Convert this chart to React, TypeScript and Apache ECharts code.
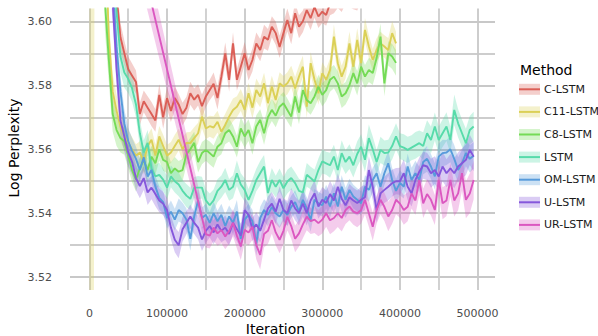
import React, { useEffect, useRef } from "react";
import * as echarts from "echarts";

// ---------- data ----------
const METHODS = ["C-LSTM", "C11-LSTM", "C8-LSTM", "LSTM", "OM-LSTM", "U-LSTM", "UR-LSTM"];
const COLORS = ["#db5f57", "#dbd057", "#75db57", "#57dbaa", "#579bdb", "#8557db", "#db57c0"];
const X_TICKS = [0, 100000, 200000, 300000, 400000, 500000];
const Y_TICKS = [3.52, 3.54, 3.56, 3.58, 3.6];
const X_TITLE = "Iteration";
const Y_TITLE = "Log Perplexity";
const LEGEND_TITLE = "Method";

// evaluation iterations (every 5000 steps)
const ITERATIONS = Array.from({ length: 100 }, (_, i) => i * 5000);
// UR-LSTM was only evaluated at 0 and then from 150000 on
const UR_ITERATIONS = [0, ...ITERATIONS.slice(30)];

const C_LSTM_MEAN = [
  4.35, 3.98, 3.82, 3.74, 3.69, 3.655, 3.63, 3.608, 3.595, 3.59,
  3.585, 3.583, 3.581, 3.571, 3.575, 3.573, 3.571, 3.569, 3.577, 3.57,
  3.576, 3.572, 3.576, 3.574, 3.571, 3.573, 3.5775, 3.5755, 3.577, 3.5735,
  3.5765, 3.5785, 3.5805, 3.576, 3.5827, 3.59, 3.5817, 3.5931, 3.5817, 3.5858,
  3.59, 3.5848, 3.5879, 3.5931, 3.591, 3.5952, 3.5942, 3.5983, 3.5963, 3.592,
  3.5963, 3.6004, 3.5963, 3.6025, 3.5983, 3.6, 3.6035, 3.601, 3.6045, 3.6015,
  3.603, 3.602, 3.6055, 3.606, 3.6075, 3.6065, 3.609, 3.608, 3.6075, 3.607,
  3.6095, 3.608, 3.611, 3.61, 3.6125, 3.6115, 3.613, 3.612, 3.6145, 3.6135,
];
const C_LSTM_HW = [
  0.05, 0.03, 0.02, 0.015, 0.01, 0.008, 0.006, 0.005, 0.0045, 0.004,
  0.004, 0.0038, 0.0036, 0.0035, 0.0034, 0.0036, 0.0038, 0.0035, 0.0033, 0.0036,
  0.0034, 0.0035, 0.0037, 0.0033, 0.0035, 0.0034, 0.0036, 0.0035, 0.0033, 0.0036,
  0.0034, 0.0032, 0.0035, 0.0036, 0.0033, 0.0034, 0.0037, 0.0035, 0.0034, 0.0036,
  0.0035, 0.0033, 0.0036, 0.0034, 0.0035, 0.0037, 0.0034, 0.0033, 0.0036, 0.0035,
  0.0034, 0.0036, 0.0035, 0.0033, 0.0036, 0.0034, 0.0035, 0.0037, 0.0034, 0.0036,
  0.0035, 0.0034, 0.0036, 0.0035, 0.0033, 0.0036, 0.0034, 0.0035, 0.0037, 0.0036,
  0.0034, 0.0036, 0.0035, 0.0034, 0.0036, 0.0035, 0.0034, 0.0036, 0.0035, 0.0034,
];

const C11_LSTM_MEAN = [
  5.5, 4.6, 4.2, 3.75, 3.63, 3.595, 3.578, 3.572, 3.567, 3.564,
  3.562, 3.56, 3.558, 3.559, 3.556, 3.561, 3.563, 3.558, 3.564, 3.561,
  3.558, 3.559, 3.561, 3.563, 3.56, 3.562, 3.5619, 3.5635, 3.565, 3.5702,
  3.5665, 3.5672, 3.5668, 3.5686, 3.5655, 3.5676, 3.5702, 3.5723, 3.5733, 3.5754,
  3.5723, 3.5775, 3.573, 3.5785, 3.5765, 3.5806, 3.5744, 3.5796, 3.5754, 3.5806,
  3.5796, 3.5806, 3.5827, 3.579, 3.5827, 3.5858, 3.5733, 3.5869, 3.5817, 3.5775,
  3.5838, 3.5817, 3.5848, 3.5952, 3.5869, 3.5827, 3.5858, 3.5931, 3.5858, 3.5942,
  3.5869, 3.5973, 3.5921, 3.5879, 3.591, 3.5931, 3.5921, 3.591, 3.5963, 3.5931,
];
const C11_LSTM_HW = [
  2.0, 1.2, 0.1, 0.03, 0.012, 0.007, 0.0055, 0.005, 0.0045, 0.0042,
  0.004, 0.0038, 0.0036, 0.0035, 0.0037, 0.0034, 0.0036, 0.0035, 0.0033, 0.0035,
  0.0034, 0.0033, 0.0035, 0.0034, 0.0036, 0.0033, 0.0035, 0.0034, 0.0033, 0.0036,
  0.0034, 0.0033, 0.0035, 0.0034, 0.0033, 0.0035, 0.0034, 0.0036, 0.0033, 0.0034,
  0.0035, 0.0033, 0.0034, 0.0036, 0.0034, 0.0033, 0.0035, 0.0034, 0.0036, 0.0035,
  0.0033, 0.0035, 0.0034, 0.0036, 0.0035, 0.0034, 0.0036, 0.0035, 0.0033, 0.0036,
  0.0034, 0.0035, 0.0036, 0.0038, 0.0035, 0.0034, 0.0036, 0.0037, 0.0035, 0.0036,
  0.0035, 0.0037, 0.0036, 0.0035, 0.0037, 0.0036, 0.0035, 0.0038, 0.0037, 0.0036,
];

const C8_LSTM_MEAN = [
  4.4, 4.0, 3.78, 3.66, 3.606, 3.588, 3.571, 3.566, 3.5635, 3.5625,
  3.558, 3.5535, 3.5505, 3.554, 3.5567, 3.5535, 3.5577, 3.5556, 3.56, 3.5567,
  3.556, 3.5525, 3.554, 3.553, 3.5535, 3.5585, 3.56, 3.562, 3.556, 3.5588,
  3.5598, 3.5588, 3.5577, 3.5608, 3.5619, 3.565, 3.566, 3.564, 3.5608, 3.5665,
  3.564, 3.566, 3.5619, 3.5671, 3.5692, 3.565, 3.57, 3.5723, 3.5705, 3.5733,
  3.5744, 3.5723, 3.5702, 3.5765, 3.5715, 3.5785, 3.5754, 3.5744, 3.5765, 3.5796,
  3.577, 3.5785, 3.5817, 3.5827, 3.5806, 3.5765, 3.5775, 3.58, 3.5838, 3.5806,
  3.5858, 3.5827, 3.5848, 3.5838, 3.5885, 3.5952, 3.5806, 3.59, 3.589, 3.587,
];
const C8_LSTM_HW = [
  0.06, 0.04, 0.025, 0.015, 0.009, 0.007, 0.0055, 0.005, 0.0045, 0.0042,
  0.004, 0.0038, 0.0037, 0.0036, 0.0035, 0.0037, 0.0034, 0.0036, 0.0035, 0.0034,
  0.0035, 0.0034, 0.0036, 0.0033, 0.0035, 0.0034, 0.0036, 0.0035, 0.0033, 0.0035,
  0.0034, 0.0036, 0.0035, 0.0033, 0.0035, 0.0034, 0.0036, 0.0035, 0.0034, 0.0036,
  0.0035, 0.0034, 0.0036, 0.0035, 0.0033, 0.0036, 0.0034, 0.0035, 0.0036, 0.0034,
  0.0035, 0.0036, 0.0034, 0.0035, 0.0037, 0.0035, 0.0034, 0.0036, 0.0035, 0.0037,
  0.0036, 0.0035, 0.0037, 0.0036, 0.0038, 0.0036, 0.0035, 0.0037, 0.0036, 0.0038,
  0.0037, 0.0036, 0.0038, 0.0037, 0.0039, 0.0041, 0.004, 0.0038, 0.0039, 0.004,
];

const LSTM_MEAN = [
  4.3, 3.95, 3.8, 3.72, 3.67, 3.64, 3.618, 3.603, 3.589, 3.584,
  3.582, 3.579, 3.574, 3.565, 3.559, 3.562, 3.554, 3.5515, 3.552, 3.5505,
  3.548, 3.5515, 3.55, 3.549, 3.547, 3.5455, 3.5445, 3.548, 3.548, 3.548,
  3.544, 3.5425, 3.544, 3.547, 3.5483, 3.5504, 3.5473, 3.5483, 3.5525, 3.549,
  3.5473, 3.5442, 3.547, 3.5504, 3.5525, 3.5546, 3.5463, 3.5504, 3.5483, 3.5504,
  3.5478, 3.5499, 3.551, 3.5494, 3.547, 3.5465, 3.552, 3.551, 3.5499, 3.5535,
  3.5562, 3.5556, 3.555, 3.5577, 3.5535, 3.5588, 3.556, 3.5577, 3.555, 3.5585,
  3.5608, 3.5567, 3.5635, 3.56, 3.556, 3.5598, 3.5588, 3.559, 3.561, 3.564,
  3.561, 3.5605, 3.5598, 3.5605, 3.5612, 3.5619, 3.561, 3.565, 3.5629, 3.5671,
  3.5629, 3.565, 3.5671, 3.5629, 3.5723, 3.5681, 3.565, 3.5619, 3.566, 3.5671,
];
const LSTM_HW = [
  0.06, 0.04, 0.025, 0.015, 0.01, 0.008, 0.0065, 0.0055, 0.005, 0.0048,
  0.0045, 0.0042, 0.004, 0.0042, 0.0038, 0.004, 0.0037, 0.0036, 0.0038, 0.0035,
  0.0036, 0.0034, 0.0035, 0.0037, 0.0034, 0.0036, 0.0035, 0.0033, 0.0036, 0.0034,
  0.0035, 0.0037, 0.0034, 0.0036, 0.0035, 0.0038, 0.0034, 0.0036, 0.004, 0.0035,
  0.0036, 0.0034, 0.0037, 0.0035, 0.0038, 0.0036, 0.0035, 0.0037, 0.0034, 0.0036,
  0.0035, 0.0037, 0.0036, 0.0034, 0.0038, 0.0036, 0.0037, 0.0035, 0.0038, 0.0036,
  0.0038, 0.0036, 0.0039, 0.0037, 0.0038, 0.004, 0.0037, 0.0039, 0.0038, 0.004,
  0.0039, 0.0038, 0.0042, 0.004, 0.0038, 0.0041, 0.0039, 0.004, 0.0042, 0.0041,
  0.004, 0.0042, 0.0041, 0.0039, 0.0042, 0.004, 0.0043, 0.0041, 0.0042, 0.0044,
  0.0042, 0.0043, 0.0045, 0.0042, 0.0048, 0.0044, 0.0043, 0.0045, 0.0044, 0.0046,
];

const OM_LSTM_MEAN = [
  4.3, 3.95, 3.79, 3.7, 3.655, 3.63, 3.612, 3.592, 3.578, 3.568,
  3.5625, 3.5595, 3.557, 3.5535, 3.5575, 3.5515, 3.5535, 3.5483, 3.5448, 3.5435,
  3.5385, 3.5405, 3.538, 3.541, 3.54, 3.538, 3.532, 3.539, 3.544, 3.5385,
  3.5395, 3.537, 3.54, 3.5375, 3.5395, 3.536, 3.539, 3.537, 3.5405, 3.532,
  3.538, 3.5395, 3.5375, 3.5305, 3.5385, 3.541, 3.5395, 3.542, 3.54, 3.539,
  3.541, 3.5395, 3.542, 3.5435, 3.5405, 3.5442, 3.5415, 3.5379, 3.5442, 3.5431,
  3.5425, 3.5452, 3.5421, 3.5462, 3.5421, 3.5483, 3.5442, 3.5473, 3.5452, 3.5442,
  3.5431, 3.5483, 3.5473, 3.5504, 3.5525, 3.5483, 3.5525, 3.5556, 3.5504, 3.547,
  3.5495, 3.5483, 3.5546, 3.5504, 3.5525, 3.5504, 3.556, 3.557, 3.5546, 3.5515,
  3.5577, 3.5588, 3.559, 3.56, 3.557, 3.5535, 3.5556, 3.5588, 3.557, 3.558,
];
const OM_LSTM_HW = [
  0.06, 0.04, 0.025, 0.015, 0.01, 0.008, 0.0065, 0.0055, 0.005, 0.0045,
  0.0042, 0.004, 0.0038, 0.0036, 0.0038, 0.0035, 0.0037, 0.0034, 0.0036, 0.0035,
  0.0033, 0.0035, 0.0034, 0.0036, 0.0033, 0.0035, 0.0037, 0.0034, 0.0036, 0.0033,
  0.0035, 0.0034, 0.0036, 0.0033, 0.0035, 0.0037, 0.0034, 0.0035, 0.0036, 0.0038,
  0.0035, 0.0034, 0.0036, 0.0038, 0.0035, 0.0034, 0.0036, 0.0035, 0.0033, 0.0036,
  0.0034, 0.0036, 0.0035, 0.0037, 0.0034, 0.0036, 0.0035, 0.0037, 0.0034, 0.0036,
  0.0035, 0.0037, 0.0036, 0.0034, 0.0037, 0.0036, 0.0038, 0.0035, 0.0037, 0.0036,
  0.0038, 0.0036, 0.0037, 0.0039, 0.0036, 0.0038, 0.0037, 0.0039, 0.0038, 0.0037,
  0.0039, 0.0037, 0.004, 0.0038, 0.0039, 0.0041, 0.0038, 0.004, 0.0039, 0.0041,
  0.004, 0.0042, 0.0039, 0.0041, 0.0043, 0.004, 0.0042, 0.0041, 0.0043, 0.0042,
];

const U_LSTM_MEAN = [
  4.25, 3.92, 3.78, 3.7, 3.65, 3.625, 3.606, 3.585, 3.569, 3.564,
  3.559, 3.556, 3.551, 3.5485, 3.551, 3.5465, 3.548, 3.546, 3.544, 3.543,
  3.541, 3.5355, 3.5317, 3.53, 3.535, 3.537, 3.539, 3.537, 3.5355, 3.5318,
  3.5345, 3.536, 3.534, 3.5365, 3.5345, 3.5355, 3.5335, 3.537, 3.535, 3.533,
  3.541, 3.5395, 3.535, 3.5365, 3.5345, 3.538, 3.5415, 3.543, 3.5405, 3.5445,
  3.541, 3.54, 3.544, 3.5415, 3.54, 3.543, 3.54, 3.544, 3.5462, 3.5421,
  3.5442, 3.5432, 3.546, 3.544, 3.5483, 3.5445, 3.5425, 3.545, 3.544, 3.5432,
  3.5442, 3.545, 3.5535, 3.5483, 3.541, 3.5462, 3.5473, 3.5483, 3.5494, 3.55,
  3.55, 3.5525, 3.5483, 3.5462, 3.5504, 3.553, 3.555, 3.5546, 3.5525, 3.5535,
  3.5515, 3.5546, 3.5525, 3.554, 3.5525, 3.5546, 3.5556, 3.5567, 3.5598, 3.5577,
];
const U_LSTM_HW = [
  0.06, 0.04, 0.025, 0.015, 0.01, 0.008, 0.0065, 0.0055, 0.005, 0.0046,
  0.0043, 0.0041, 0.0039, 0.0038, 0.0037, 0.0039, 0.0036, 0.0038, 0.0037, 0.0036,
  0.0038, 0.0037, 0.0039, 0.0041, 0.0038, 0.0036, 0.0037, 0.0035, 0.0037, 0.0036,
  0.0038, 0.0036, 0.0037, 0.0039, 0.0036, 0.0038, 0.0037, 0.0036, 0.0038, 0.0037,
  0.0039, 0.0037, 0.0036, 0.0038, 0.0037, 0.0039, 0.0038, 0.0036, 0.0038, 0.0039,
  0.0037, 0.0038, 0.0039, 0.0037, 0.0038, 0.004, 0.0038, 0.0039, 0.0041, 0.0038,
  0.004, 0.0039, 0.0041, 0.0039, 0.0042, 0.004, 0.0039, 0.0041, 0.004, 0.0039,
  0.0041, 0.004, 0.0044, 0.0042, 0.004, 0.0042, 0.0041, 0.0043, 0.0042, 0.0041,
  0.0042, 0.0044, 0.0042, 0.0041, 0.0043, 0.0044, 0.0042, 0.0043, 0.0045, 0.0043,
  0.0044, 0.0046, 0.0044, 0.0045, 0.0047, 0.0045, 0.0046, 0.0048, 0.0047, 0.0046,
];

const UR_LSTM_MEAN = [
  3.688,
  3.5335, 3.533, 3.5355, 3.5337, 3.5348, 3.5327, 3.5345, 3.537, 3.533, 3.5296,
  3.5348, 3.534, 3.5358, 3.53, 3.527, 3.5335, 3.5345, 3.5379, 3.534, 3.5317,
  3.5345, 3.5389, 3.536, 3.532, 3.5337, 3.5365, 3.5389, 3.5375, 3.538, 3.5369,
  3.538, 3.54, 3.5378, 3.5385, 3.54, 3.5385, 3.541, 3.5421, 3.5405, 3.54,
  3.541, 3.5442, 3.54, 3.5358, 3.541, 3.5442, 3.542, 3.539, 3.541, 3.5442,
  3.543, 3.541, 3.542, 3.5462, 3.544, 3.5504, 3.5431, 3.546, 3.5442, 3.541,
  3.5504, 3.5431, 3.544, 3.5504, 3.544, 3.5462, 3.5525, 3.5442, 3.5462, 3.5504,
];
const UR_LSTM_HW = [
  0.011,
  0.0042, 0.004, 0.0041, 0.0039, 0.0042, 0.004, 0.0041, 0.0043, 0.004, 0.0042,
  0.0041, 0.004, 0.0042, 0.0044, 0.0046, 0.0042, 0.0041, 0.0043, 0.004, 0.0042,
  0.0041, 0.0043, 0.004, 0.0042, 0.0041, 0.0043, 0.0042, 0.004, 0.0042, 0.0041,
  0.0043, 0.0042, 0.0044, 0.0041, 0.0043, 0.0042, 0.0044, 0.0043, 0.0041, 0.0044,
  0.0043, 0.0045, 0.0042, 0.0044, 0.0043, 0.0045, 0.0044, 0.0046, 0.0043, 0.0045,
  0.0044, 0.0046, 0.0045, 0.0047, 0.0045, 0.0048, 0.0046, 0.0047, 0.0049, 0.0047,
  0.0048, 0.005, 0.0049, 0.0052, 0.005, 0.0053, 0.0055, 0.0058, 0.0062, 0.006,
];

const SERIES_DATA = [
  { iters: ITERATIONS, mean: C_LSTM_MEAN, hw: C_LSTM_HW },
  { iters: ITERATIONS, mean: C11_LSTM_MEAN, hw: C11_LSTM_HW },
  { iters: ITERATIONS, mean: C8_LSTM_MEAN, hw: C8_LSTM_HW },
  { iters: ITERATIONS, mean: LSTM_MEAN, hw: LSTM_HW },
  { iters: ITERATIONS, mean: OM_LSTM_MEAN, hw: OM_LSTM_HW },
  { iters: ITERATIONS, mean: U_LSTM_MEAN, hw: U_LSTM_HW },
  { iters: UR_ITERATIONS, mean: UR_LSTM_MEAN, hw: UR_LSTM_HW },
];

// ---------- styling ----------
const FONT = "DejaVu Sans";
const MAJOR = "#c8c8c8";
const MINOR = "#cdcdcd";
const NONE = "rgba(0,0,0,0)";
const X_MIN = -25000, X_MAX = 522500, X_STEP = 2500;
const Y_MIN = 3.516, Y_MAX = 3.604, Y_STEP = 0.001;

function rgba(hex: string, a: number) {
  const n = parseInt(hex.slice(1), 16);
  return `rgba(${(n >> 16) & 255},${(n >> 8) & 255},${n & 255},${a})`;
}

function gridColors(min: number, step: number, period: number, kind: (v: number) => number) {
  return Array.from({ length: period }, (_, k) => {
    const t = kind(min + k * step);
    return t === 2 ? MAJOR : t === 1 ? MINOR : NONE;
  });
}

export default function App() {
  const ref = useRef<HTMLDivElement>(null);
  useEffect(() => {
    if (!ref.current) return;
    const chart = echarts.init(ref.current, null, { renderer: "svg" });

    const xKind = (v: number) => {
      const r = Math.round(v);
      if (X_TICKS.includes(r)) return 2;
      if (((r % 100000) + 100000) % 100000 === 50000) return 1;
      return 0;
    };
    const yKind = (v: number) => {
      const m = Math.round(v * 1000);
      if (m % 20 === 0) return 2;
      if (m % 20 === 10) return 1;
      return 0;
    };

    const bands = SERIES_DATA.map((s, k) => {
      const rows = s.mean.map((m, i) => [s.iters[i], m - s.hw[i], m + s.hw[i]]);
      return {
        type: "custom",
        name: METHODS[k] + " band",
        silent: true,
        clip: true,
        z: 1,
        data: rows,
        encode: { x: 0, y: [1, 2] },
        renderItem: (params: any, api: any) => {
          if (params.dataIndex !== 0) return null;
          const up = rows.map((r) => api.coord([r[0], r[2]]));
          const lo = rows.map((r) => api.coord([r[0], r[1]])).reverse();
          return {
            type: "polygon",
            shape: { points: up.concat(lo) },
            style: { fill: rgba(COLORS[k], 0.3), stroke: null },
          };
        },
      };
    });

    const lines = SERIES_DATA.map((s, k) => ({
      type: "line",
      name: METHODS[k],
      data: s.mean.map((m, i) => [s.iters[i], m]),
      showSymbol: false,
      symbol: "none",
      clip: true,
      silent: true,
      z: 3,
      lineStyle: { color: COLORS[k], width: 1.9 },
      itemStyle: { color: COLORS[k] },
    }));

    const legendTop = 89.3;
    const legendStep = 22.6;
    const legendEls: any[] = [
      {
        type: "text",
        x: 520,
        y: 70,
        style: {
          text: LEGEND_TITLE, fontSize: 14, fontFamily: FONT, fill: "#000",
          align: "left", verticalAlign: "middle", textAlign: "left", textVerticalAlign: "middle",
        },
      },
    ];
    METHODS.forEach((m, i) => {
      const cy = legendTop + legendStep * i;
      legendEls.push({ type: "rect", shape: { x: 519, y: cy - 5.5, width: 21, height: 11 }, style: { fill: rgba(COLORS[i], 0.3) } });
      legendEls.push({ type: "line", shape: { x1: 519, y1: cy, x2: 540, y2: cy }, style: { stroke: COLORS[i], lineWidth: 2 } });
      legendEls.push({
        type: "text",
        x: 544,
        y: cy,
        style: {
          text: m, fontSize: 11, fontFamily: FONT, fill: "#1a1a1a",
          align: "left", verticalAlign: "middle", textAlign: "left", textVerticalAlign: "middle",
        },
      });
    });

    const option: any = {
      animation: false,
      backgroundColor: "#ffffff",
      textStyle: { fontFamily: FONT },
      grid: { left: 70, top: 8.5, width: 425, height: 281.5, containLabel: false, outerBoundsMode: "none" },
      xAxis: {
        type: "value",
        min: X_MIN,
        max: X_MAX,
        interval: X_STEP,
        axisLine: { show: false },
        axisTick: { show: false },
        axisLabel: {
          color: "#4d4d4d",
          fontSize: 11,
          fontFamily: FONT,
          margin: 18,
          formatter: (v: number) => (xKind(v) === 2 ? String(Math.round(v)) : ""),
        },
        splitLine: {
          show: true,
          lineStyle: { color: gridColors(X_MIN, X_STEP, 40, xKind), width: 1.8 },
        },
      },
      yAxis: {
        type: "value",
        min: Y_MIN,
        max: Y_MAX,
        interval: Y_STEP,
        axisLine: { show: false },
        axisTick: { show: false },
        axisLabel: {
          color: "#4d4d4d",
          fontSize: 11,
          fontFamily: FONT,
          margin: 18,
          formatter: (v: number) => {
            const t = Y_TICKS.find((y) => Math.abs(y - v) < 1e-7);
            return t !== undefined ? t.toFixed(2) : "";
          },
        },
        splitLine: {
          show: true,
          lineStyle: { color: gridColors(Y_MIN, Y_STEP, 20, yKind), width: 1.8 },
        },
      },
      series: [...bands, ...lines],
      graphic: [
        {
          type: "text",
          x: 275.5,
          y: 329,
          style: {
            text: X_TITLE, fontSize: 14, fontFamily: FONT, fill: "#000",
            align: "center", verticalAlign: "middle", textAlign: "center", textVerticalAlign: "middle",
          },
        },
        {
          type: "text",
          x: 14,
          y: 148,
          rotation: Math.PI / 2,
          style: {
            text: Y_TITLE, fontSize: 14, fontFamily: FONT, fill: "#000",
            align: "center", verticalAlign: "middle", textAlign: "center", textVerticalAlign: "middle",
          },
        },
        ...legendEls,
      ],
    };

    chart.setOption(option);
    return () => chart.dispose();
  }, []);

  return (
    <div
      ref={ref}
      style={{ position: "fixed", left: 0, top: 0, width: 598, height: 336, background: "#fff" }}
    />
  );
}
